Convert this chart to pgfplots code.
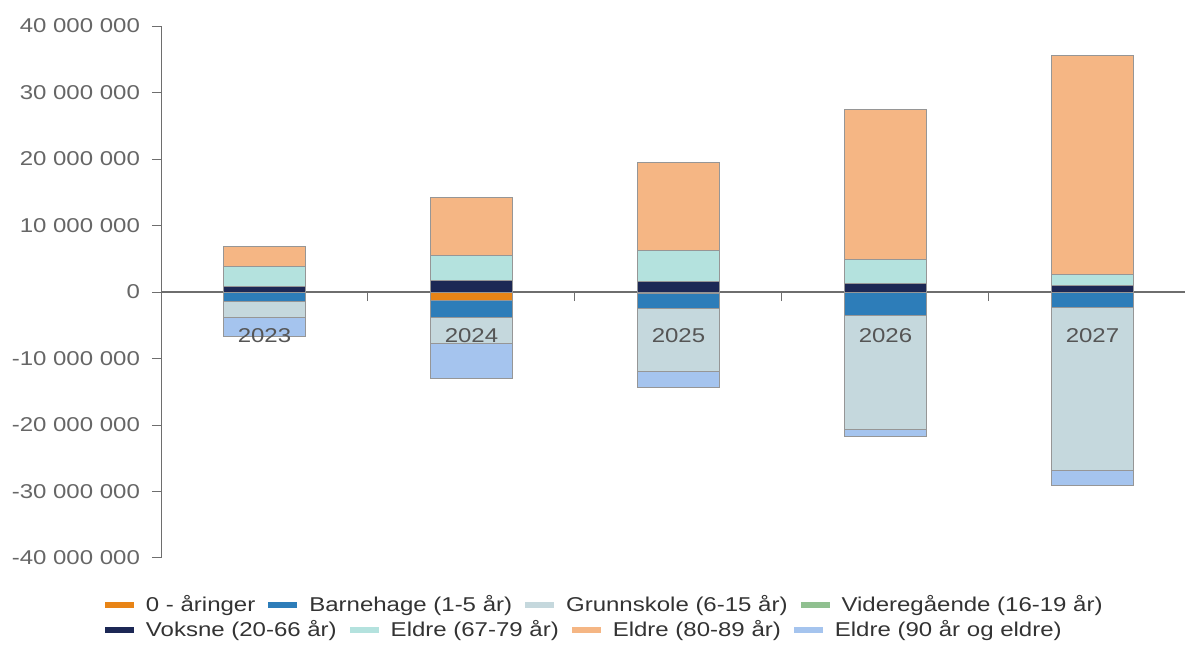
\documentclass[border=0pt]{standalone}
\usepackage{fontspec}
\setmainfont{Liberation Sans}[FakeStretch=1.2]
\usepackage{pgfplots}
\usepackage{pgfplotstable}
\pgfplotsset{compat=1.18}

\definecolor{cNull}{RGB}{232,132,22}
\definecolor{cBh}{RGB}{45,125,185}
\definecolor{cGs}{RGB}{197,216,221}
\definecolor{cVg}{RGB}{144,192,144}
\definecolor{cVok}{RGB}{28,40,85}
\definecolor{cE67}{RGB}{180,226,222}
\definecolor{cE80}{RGB}{245,182,132}
\definecolor{cE90}{RGB}{165,196,238}
\definecolor{edgegray}{RGB}{150,150,150}
\definecolor{ticktext}{RGB}{102,102,102}
\definecolor{xlabtext}{RGB}{85,85,85}
\definecolor{legtext}{RGB}{51,51,51}
\definecolor{axisgray}{RGB}{110,110,110}

\pgfplotstableread{
x vok e67 e80
0 800000 3000000 3100000
1 1700000 3850000 8700000
2 1600000 4600000 13200000
3 1300000 3650000 22450000
4 950000 1750000 32900000
}\postab

\pgfplotstableread{
x null bh gs vg e90
0 0 -1400000 -2400000 0 -2900000
1 -1300000 -2500000 -4000000 0 -5200000
2 -200000 -2300000 -9400000 0 -2500000
3 0 -3550000 -17200000 0 -1000000
4 0 -2300000 -24600000 0 -2250000
}\negtab

\pgfplotsset{
  bstyle/.style={fill=#1, draw=edgegray, line width=0.5pt,
    legend image code/.code={\fill[#1] (0pt,-1.1pt) rectangle (14pt,1.1pt);}},
  basestyle/.style={
    scale only axis, width=512pt, height=266pt,
    at={(80.5pt,45pt)}, anchor=south west,
    xmin=-0.5, xmax=4.447, ymin=-40000000, ymax=40000000,
    ybar stacked, bar width=0.4,
    font=\fontsize{10}{12}\selectfont,
    legend style={draw=none, fill=none, inner sep=0pt, outer sep=0pt,
      text=legtext, font=\fontsize{10}{12}\selectfont,
      nodes={inner sep=0pt},
      legend columns=-1,
      /tikz/every odd column/.append style={column sep=6pt},
      /tikz/every even column/.append style={column sep=6.5pt}},
  }
}

\begin{document}
\begin{tikzpicture}
\useasboundingbox (0,0) rectangle (592.5pt,324pt);
% positive stack
\begin{axis}[basestyle,
  axis y line*=left, axis x line*=middle,
  axis line style={axisgray, line width=0.6pt},
  y axis line style={line width=0.5pt},
  scaled y ticks=false,
  ytick={-40000000,-30000000,-20000000,-10000000,0,10000000,20000000,30000000,40000000},
  yticklabels={-40 000 000,-30 000 000,-20 000 000,-10 000 000,0,10 000 000,20 000 000,30 000 000,40 000 000},
  yticklabel style={text=ticktext, xshift=-2.5pt},
  ytick align=outside, ytick style={axisgray, line width=0.5pt},
  xtick={0.5,1.5,2.5,3.5}, xticklabels={},
  xtick align=outside, xtick style={axisgray, line width=0.5pt},
  major tick length=4.5pt,
  legend style={at={(axis description cs:-0.0547,-0.1353)}, anchor=west},
]
\addplot[bstyle=cVok] table[x=x,y=vok]{\postab};
\addlegendentry{Voksne (20-66 år)}
\addplot[bstyle=cE67] table[x=x,y=e67]{\postab};
\addlegendentry{Eldre (67-79 år)}
\addplot[bstyle=cE80] table[x=x,y=e80]{\postab};
\addlegendentry{Eldre (80-89 år)}
\addlegendimage{bstyle=cE90}
\addlegendentry{Eldre (90 år og eldre)}
\end{axis}
% negative stack
\begin{axis}[basestyle,
  axis on top,
  hide y axis, axis x line*=middle,
  axis line style={draw=none},
  scaled y ticks=false,
  xtick={0,1,2,3,4}, xticklabels={2023,2024,2025,2026,2027},
  xtick style={draw=none}, major tick length=0pt,
  xticklabel style={text=xlabtext, yshift=-14.5pt},
  legend style={at={(axis description cs:-0.0547,-0.088)}, anchor=west},
]
\addplot[bstyle=cNull] table[x=x,y=null]{\negtab};
\addlegendentry{0 - åringer}
\addplot[bstyle=cBh] table[x=x,y=bh]{\negtab};
\addlegendentry{Barnehage (1-5 år)}
\addplot[bstyle=cGs] table[x=x,y=gs]{\negtab};
\addlegendentry{Grunnskole (6-15 år)}
\addplot[bstyle=cVg] table[x=x,y=vg]{\negtab};
\addlegendentry{Videregående (16-19 år)}
\addplot[bstyle=cE90] table[x=x,y=e90]{\negtab};
\end{axis}
\end{tikzpicture}
\end{document}
